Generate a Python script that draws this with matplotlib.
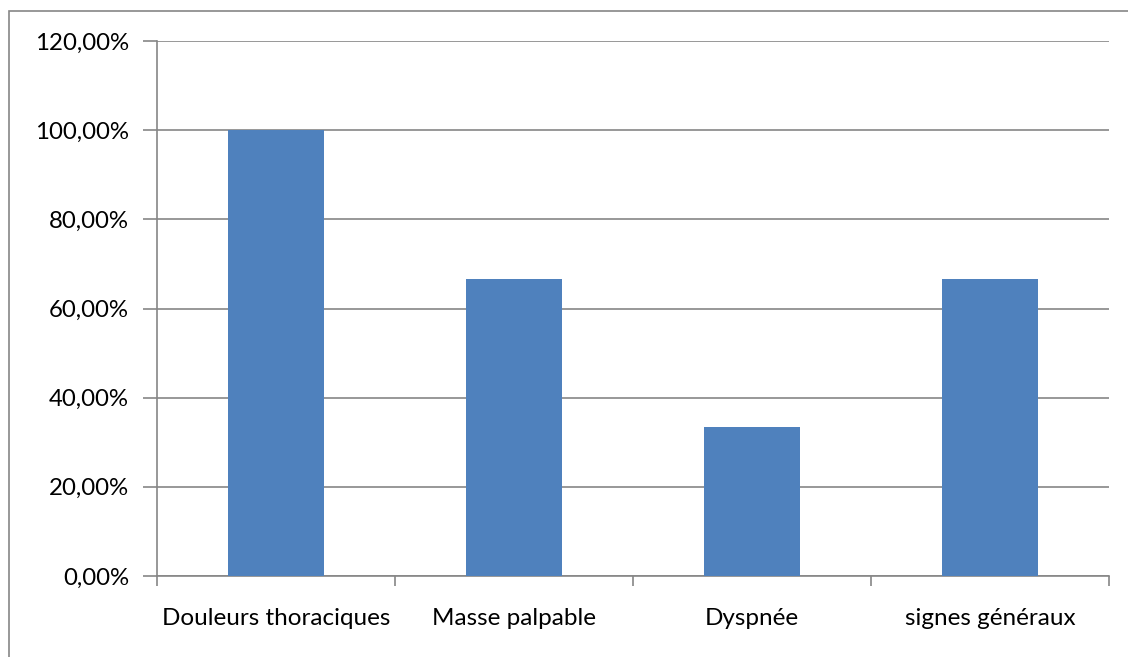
import matplotlib.pyplot as plt
from matplotlib.patches import Rectangle
from matplotlib.ticker import FuncFormatter

categories = ["Douleurs thoraciques", "Masse palpable", "Dyspnée", "signes généraux"]
values = [100.0, 66.67, 33.33, 66.67]
yticks = [0, 20, 40, 60, 80, 100, 120]

plt.rcParams['font.family'] = ['Lato', 'DejaVu Sans']

W, H = 1128, 657
fig = plt.figure(figsize=(W / 100, H / 100), dpi=100)

# Excel-like outer chart border (runs off right/bottom edges)
fig.patches.append(Rectangle((8.5 / W, -0.1), 1.2, 1 - 10.5 / H + 0.1,
                             transform=fig.transFigure, fill=False,
                             edgecolor='#868686', linewidth=1.2))

left, right, top, bottom = 157, 1109, 41, 576
ax = fig.add_axes([left / W, 1 - bottom / H, (right - left) / W, (bottom - top) / H])

grid_col = '#868686'
x = range(len(categories))
ax.bar(x, values, width=0.4, color='#4F81BD', zorder=3)

ax.set_xlim(-0.5, len(categories) - 0.5)
ax.set_ylim(0, 120)
ax.set_yticks(yticks)
ax.yaxis.set_major_formatter(FuncFormatter(lambda v, p: f"{v:.2f}%".replace('.', ',')))
ax.grid(axis='y', color=grid_col, linewidth=1.2, zorder=0)

ax.set_xticks([i - 0.5 for i in range(len(categories) + 1)])
ax.set_xticklabels([])
ax.set_xticks(list(x), minor=True)
ax.set_xticklabels(categories, minor=True)
ax.tick_params(axis='x', which='major', length=7, width=1.2, color=grid_col, direction='out')
ax.tick_params(axis='x', which='minor', length=0, pad=23, labelsize=17.5)
ax.tick_params(axis='y', length=10, width=1.2, color=grid_col, direction='out', pad=10, labelsize=17.3)

for side in ['top', 'right']:
    ax.spines[side].set_visible(False)
ax.spines['left'].set_color(grid_col)
ax.spines['left'].set_linewidth(1.2)
ax.spines['bottom'].set_color(grid_col)
ax.spines['bottom'].set_linewidth(1.2)

fig.savefig('out.png', dpi=100)
